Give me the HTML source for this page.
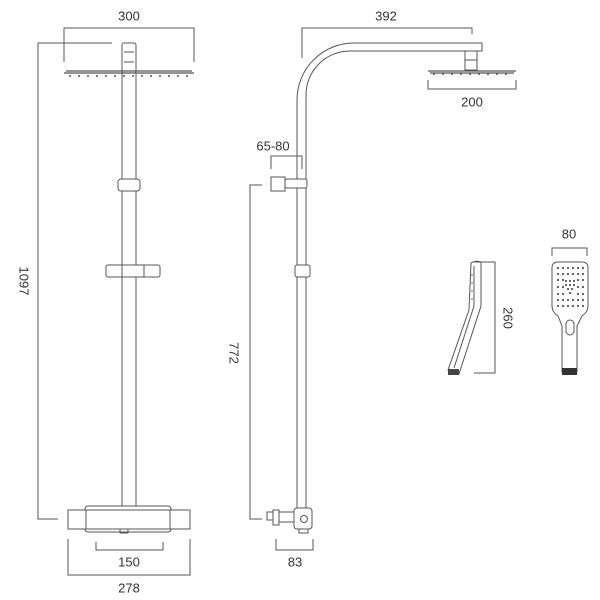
<!DOCTYPE html>
<html><head><style>html,body{margin:0;padding:0;background:#fff}svg{display:block}text{font-family:"Liberation Sans",sans-serif;font-size:13px;fill:#333;text-anchor:middle;dominant-baseline:central}</style></head>
<body>
<svg width="600" height="600" viewBox="0 0 600 600" xmlns="http://www.w3.org/2000/svg">
<g fill="none" stroke="#555" stroke-width="1">
<!-- LEFT UNIT -->
<polyline points="64,62 64,28 194,28 194,62"/>
<polyline points="112,43 38,43 38,519 58,519"/>
<rect x="122" y="43" width="14" height="30" rx="2"/>
<line x1="124" y1="52" x2="134" y2="52"/><line x1="124" y1="62" x2="134" y2="62"/>
<path d="M64,73 H194 M66,71 H192" stroke-width="1.2"/>
<line x1="122" y1="73" x2="122" y2="508"/><line x1="136" y1="73" x2="136" y2="508"/>
<rect x="118" y="179" width="22" height="12" rx="3" fill="#fff"/>
<rect x="106" y="265" width="54" height="12" rx="2" fill="#fff"/>
<line x1="122" y1="265" x2="122" y2="277"/><line x1="144" y1="265" x2="144" y2="277"/>
<rect x="85" y="506" width="86" height="26" rx="3" fill="#fff"/>
<rect x="68" y="510" width="122" height="19" fill="#fff"/>
<line x1="86" y1="510" x2="86" y2="529"/><line x1="170" y1="510" x2="170" y2="529"/>
<rect x="120" y="529" width="8" height="4"/>
<polyline points="96,542 96,550 163,550 163,542"/>
<polyline points="68,539 68,575 190,575 190,539"/>
<!-- RIGHT UNIT -->
<polyline points="302,58 302,28 472,28 472,34"/>
<path d="M297,508 V100 A57,57 0 0 1 354,43 H482 V51 H350 A44,44 0 0 0 306,95 V508"/>
<rect x="465" y="51" width="12" height="19"/>
<line x1="465" y1="60" x2="477" y2="60"/>
<path d="M428,71 H516 M430,73 H514" stroke-width="1.2"/>
<polyline points="428,80 428,89 516,89 516,80"/>
<polyline points="271,169 271,156 302,156 302,169"/>
<rect x="271" y="177" width="14" height="14" fill="#fff"/>
<rect x="285" y="179" width="22" height="9" rx="2" fill="#fff"/>
<polyline points="262,185 250,185 250,519 262,519"/>
<rect x="295" y="265" width="15" height="12" rx="2" fill="#fff"/>
<rect x="267" y="512" width="6" height="8"/>
<rect x="273" y="510" width="6" height="15"/>
<rect x="279" y="512" width="15" height="10"/>
<rect x="294" y="508" width="18" height="21" rx="3" fill="#fff"/>
<circle cx="304" cy="519" r="3.5"/>
<rect x="299" y="529" width="9" height="4"/>
<polyline points="276,539 276,550 313,550 313,539"/>
<!-- HANDSET SIDE -->
<path d="M471,263 Q476,260 481,262 V306 L459,374 L448,370 L469,310 Z"/>
<line x1="474" y1="266" x2="474" y2="306"/>
<line x1="474" y1="306" x2="454" y2="368"/>
<rect x="448" y="369" width="11" height="6" fill="#444" stroke="none"/>
<polyline points="474,262 495,262 495,373 474,373"/>
<!-- HANDSET FRONT -->
<polyline points="552,256 552,248 587,248 587,256"/>
<path d="M558,262 H582 Q588,262 588,268 V306 Q588,312 582,316 L577,326 V372 H562 V326 L558,316 Q552,312 552,306 V268 Q552,262 558,262 Z"/>
<rect x="566" y="320" width="8" height="15" rx="4"/>
</g>
<rect x="562" y="368" width="15" height="7" fill="#333"/>
<g fill="#555">
<!-- shower head dots -->
<g id="d1">
<circle cx="70" cy="76" r="1"/><circle cx="79" cy="76" r="1"/><circle cx="88" cy="76" r="1"/><circle cx="97" cy="76" r="1"/><circle cx="106" cy="76" r="1"/><circle cx="115" cy="76" r="1"/><circle cx="124" cy="76" r="1"/><circle cx="133" cy="76" r="1"/><circle cx="142" cy="76" r="1"/><circle cx="151" cy="76" r="1"/><circle cx="160" cy="76" r="1"/><circle cx="169" cy="76" r="1"/><circle cx="178" cy="76" r="1"/><circle cx="187" cy="76" r="1"/>
</g>
<circle cx="434" cy="74" r="1"/><circle cx="443" cy="74" r="1"/><circle cx="452" cy="74" r="1"/><circle cx="461" cy="74" r="1"/><circle cx="470" cy="74" r="1"/><circle cx="479" cy="74" r="1"/><circle cx="488" cy="74" r="1"/><circle cx="497" cy="74" r="1"/><circle cx="506" cy="74" r="1"/>
<g>
<circle cx="558" cy="268" r="1.1"/><circle cx="563" cy="268" r="1.1"/><circle cx="568" cy="268" r="1.1"/><circle cx="573" cy="268" r="1.1"/><circle cx="578" cy="268" r="1.1"/><circle cx="583" cy="268" r="1.1"/>
<circle cx="558" cy="274" r="1.1"/><circle cx="563" cy="274" r="1.1"/><circle cx="568" cy="274" r="1.1"/><circle cx="573" cy="274" r="1.1"/><circle cx="578" cy="274" r="1.1"/><circle cx="583" cy="274" r="1.1"/>
<circle cx="558" cy="280" r="1.1"/><circle cx="563" cy="280" r="1.1"/><circle cx="566" cy="281" r="1.1"/><circle cx="570" cy="281" r="1.1"/><circle cx="574" cy="281" r="1.1"/><circle cx="578" cy="280" r="1.1"/><circle cx="583" cy="280" r="1.1"/>
<circle cx="558" cy="287" r="1.1"/><circle cx="563" cy="287" r="1.1"/><circle cx="566" cy="285" r="1.1"/><circle cx="570" cy="285" r="1.1"/><circle cx="574" cy="285" r="1.1"/><circle cx="568" cy="289" r="1.1"/><circle cx="572" cy="289" r="1.1"/><circle cx="578" cy="287" r="1.1"/><circle cx="583" cy="287" r="1.1"/>
<circle cx="558" cy="294" r="1.1"/><circle cx="563" cy="294" r="1.1"/><circle cx="570" cy="293" r="1.1"/><circle cx="578" cy="294" r="1.1"/><circle cx="583" cy="294" r="1.1"/>
<circle cx="558" cy="300" r="1.1"/><circle cx="563" cy="300" r="1.1"/><circle cx="568" cy="300" r="1.1"/><circle cx="573" cy="300" r="1.1"/><circle cx="578" cy="300" r="1.1"/><circle cx="583" cy="300" r="1.1"/>
<circle cx="558" cy="306" r="1.1"/><circle cx="563" cy="306" r="1.1"/><circle cx="568" cy="306" r="1.1"/><circle cx="573" cy="306" r="1.1"/><circle cx="578" cy="306" r="1.1"/><circle cx="583" cy="306" r="1.1"/>
</g>
<circle cx="472" cy="275" r="0.8"/><circle cx="472" cy="283" r="0.8"/><circle cx="472" cy="291" r="0.8"/><circle cx="472" cy="299" r="0.8"/>
</g>
<text x="129" y="16">300</text>
<text x="24" y="281" transform="rotate(90 24 281)">1097</text>
<text x="129" y="562">150</text>
<text x="129" y="588">278</text>
<text x="386" y="16">392</text>
<text x="472" y="102">200</text>
<text x="273" y="146">65-80</text>
<text x="234" y="353" transform="rotate(90 234 353)">772</text>
<text x="295" y="562">83</text>
<text x="508" y="318" transform="rotate(90 508 318)">260</text>
<text x="569" y="234">80</text>
</svg>
</body></html>
